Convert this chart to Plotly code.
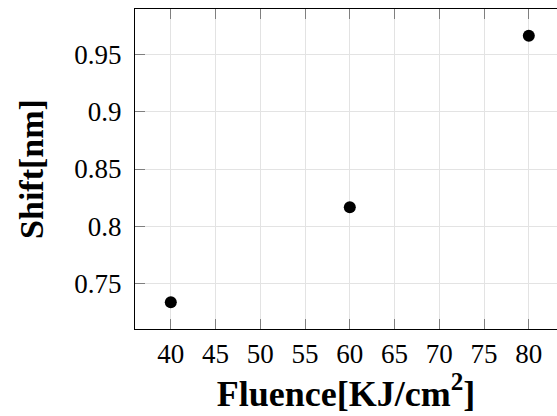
import plotly.graph_objects as go

fluence = [40, 60, 80]
shift = [0.7335, 0.8165, 0.9665]
x_ticks = [40, 45, 50, 55, 60, 65, 70, 75, 80]
y_ticks = [0.75, 0.8, 0.85, 0.9, 0.95]
y_tick_text = ["0.75", "0.8", "0.85", "0.9", "0.95"]

fig = go.Figure()
fig.add_trace(go.Scatter(
    x=fluence, y=shift, mode="markers",
    marker=dict(color="black", size=12),
    showlegend=False,
))

ff = "Liberation Serif"
fig.update_layout(
    width=557, height=416,
    margin=dict(l=135, r=0, t=9, b=87),
    paper_bgcolor="white", plot_bgcolor="white",
    font=dict(family=ff, color="black", size=27),
)
fig.update_xaxes(
    range=[36, 83.15],
    tickmode="array",
    tickvals=x_ticks,
    ticktext=[str(v) for v in x_ticks],
    ticks="inside", ticklen=10, tickcolor="#7f7f7f", tickwidth=1,
    showline=True, linecolor="black", linewidth=1.2, mirror="ticks",
    showgrid=True, gridcolor="#e3e3e3", gridwidth=1,
    zeroline=False,
    tickfont=dict(size=27, family=ff, color="black"),
    title=dict(text="<b>Fluence[KJ/cm<sup>2</sup>]</b>",
               font=dict(size=36, family=ff, color="black"), standoff=10),
)
fig.update_yaxes(
    range=[0.7102, 0.9898],
    tickmode="array",
    tickvals=y_ticks,
    ticktext=y_tick_text,
    ticks="inside", ticklen=10, tickcolor="#7f7f7f", tickwidth=1,
    showline=True, linecolor="black", linewidth=1.2, mirror=False,
    showgrid=True, gridcolor="#e3e3e3", gridwidth=1,
    zeroline=False,
    ticklabelstandoff=7,
    tickfont=dict(size=27, family=ff, color="black"),
    title=dict(text="<b>Shift[nm]</b>",
               font=dict(size=34, family=ff, color="black"), standoff=20),
)

fig.write_html("out.html")
